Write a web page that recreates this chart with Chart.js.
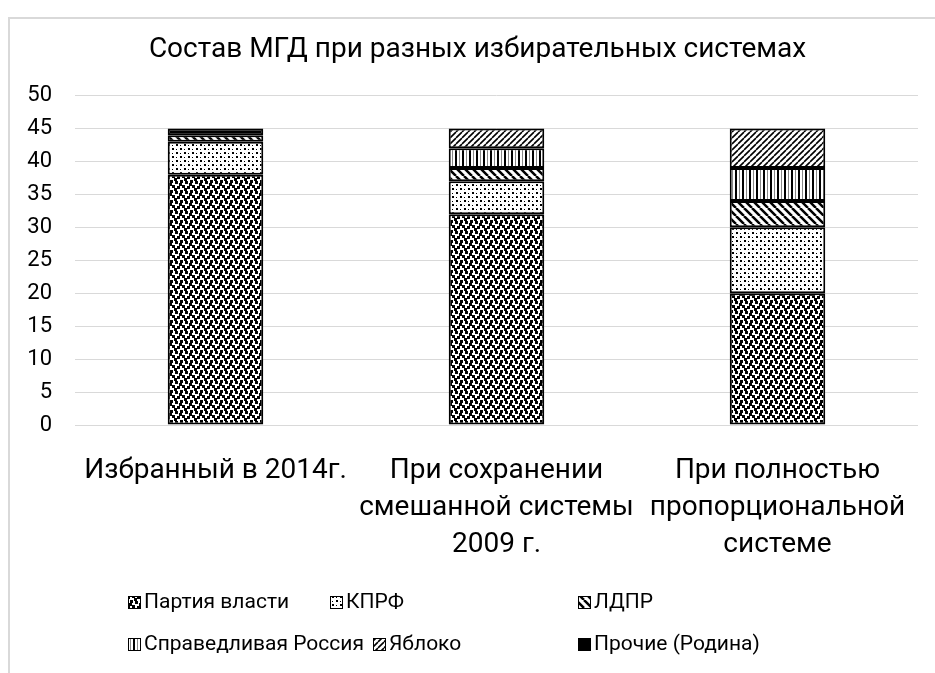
<!DOCTYPE html>
<html lang="ru">
    <head>
        <meta charset="utf-8" />
        <title>Состав МГД</title>
        <script src="https://cdn.jsdelivr.net/npm/chart.js"></script>
        <style>
            body { margin: 0; background: #fff; }
            #frame {
              position: absolute; left: 8px; top: 17px;
              width: 1000px; height: 1000px;
              border-left: 2px solid #d9d9d9; border-top: 2px solid #d9d9d9;
            }
            #chart { position: absolute; left: 0; top: 0; }
        </style>
    </head>
    <body>
        <div id="frame"></div>
        <canvas id="chart" width="935" height="673"></canvas>
        <script>
            // data
            const chartTitle = "Состав МГД при разных избирательных системах";
            const categories = [
              ["Избранный в 2014г."],
              ["При сохранении", "смешанной системы", "2009 г."],
              ["При полностью", "пропорциональной", "системе"]
            ];
            const seriesNames = ["Партия власти", "КПРФ", "ЛДПР", "Справедливая Россия", "Яблоко", "Прочие (Родина)"];
            const partyOfPower = [38, 32, 20];
            const kprf = [5, 5, 10];
            const ldpr = [1, 2, 4];
            const sr = [0, 3, 5];
            const yabloko = [0, 3, 6];
            const others = [1, 0, 0];
            const yMin = 0, yMax = 50, yStep = 5;

            const FONT = "Roboto, 'Noto Sans', sans-serif";

            // hatch fills, like the excel pattern fills
            function makePattern(w, h, draw) {
              const c = document.createElement("canvas");
              c.width = w; c.height = h;
              const g = c.getContext("2d");
              g.fillStyle = "#fff";
              g.fillRect(0, 0, w, h);
              g.fillStyle = "#000";
              g.strokeStyle = "#000";
              draw(g, w, h);
              return g.createPattern(c, "repeat");
            }

            const confetti = makePattern(10, 10, g => {
              [[0, 0], [5, 1], [2, 5], [7, 6], [4, 8], [9, 3]].forEach(([x, y]) => {
                g.fillRect(x, y, 3, 3);
                g.fillRect(x - 10, y, 3, 3);
                g.fillRect(x, y - 10, 3, 3);
              });
            });
            const dots = makePattern(8, 8, g => {
              g.fillRect(0, 0, 2, 2);
              g.fillRect(4, 4, 2, 2);
              g.fillRect(4, 1, 1, 1);
              g.fillRect(0, 5, 1, 1);
            });
            const downDiag = makePattern(8, 8, g => {
              g.lineWidth = 2.5;
              g.beginPath();
              [-8, 0, 8].forEach(o => { g.moveTo(o, 0); g.lineTo(o + 8, 8); });
              g.stroke();
            });
            const vertical = makePattern(7, 4, g => {
              g.fillRect(0, 0, 2, 4);
              g.fillStyle = "#888";
              g.fillRect(4, 0, 1, 4);
            });
            const upDiag = makePattern(6, 6, g => {
              g.lineWidth = 1.6;
              g.beginPath();
              [-6, 0, 6].forEach(o => { g.moveTo(o, 6); g.lineTo(o + 6, 0); });
              g.stroke();
            });

            const series = [partyOfPower, kprf, ldpr, sr, yabloko, others];
            const fills = [confetti, dots, downDiag, vertical, upDiag, "#000"];

            // legend laid out like the excel one: 3 columns, 2 rows
            const legendSpots = [[128, 603], [330, 603], [578, 603], [128, 645], [373, 645], [578, 645]];

            const gridLegend = {
              id: "gridLegend",
              afterLayout(chart) {
                // excel centres the title a bit to the right of the canvas middle
                chart.titleBlock.left += 37;
              },
              afterDraw(chart) {
                const ctx = chart.ctx;
                ctx.save();
                ctx.font = "21px " + FONT;
                ctx.textBaseline = "middle";
                chart.data.datasets.forEach((ds, i) => {
                  const [x, y] = legendSpots[i];
                  ctx.fillStyle = ds.backgroundColor;
                  ctx.fillRect(x, y - 7, 13, 13);
                  ctx.strokeStyle = "#000";
                  ctx.lineWidth = 1;
                  ctx.strokeRect(x + 0.5, y - 6.5, 12, 12);
                  ctx.fillStyle = "#000";
                  ctx.fillText(ds.label, x + 16, y);
                });
                ctx.restore();
              }
            };

            new Chart(document.getElementById("chart"), {
              type: "bar",
              data: {
                labels: categories,
                datasets: series.map((vals, i) => ({
                  label: seriesNames[i],
                  data: vals,
                  backgroundColor: fills[i],
                  borderColor: "#000",
                  borderWidth: 2,
                  borderSkipped: false,
                  barPercentage: 0.34,
                  categoryPercentage: 1
                }))
              },
              options: {
                responsive: false,
                animation: false,
                devicePixelRatio: 1,
                layout: { padding: { left: 0, right: 17, top: 0, bottom: 100 } },
                plugins: {
                  legend: { display: false },
                  tooltip: { enabled: false },
                  title: {
                    display: true,
                    text: chartTitle,
                    color: "#000",
                    font: { family: FONT, size: 28, weight: "normal" },
                    padding: { top: 33, bottom: 29 }
                  }
                },
                scales: {
                  x: {
                    stacked: true,
                    grid: { display: false },
                    border: { display: false },
                    ticks: {
                      color: "#000",
                      maxRotation: 0,
                      autoSkip: false,
                      padding: 19,
                      font: { family: FONT, size: 28, lineHeight: 37 / 28 }
                    },
                    afterFit: s => { s.height = 148; }
                  },
                  y: {
                    stacked: true,
                    min: yMin,
                    max: yMax,
                    grid: { color: "#d9d9d9", lineWidth: 1, drawTicks: false },
                    border: { display: false },
                    ticks: {
                      stepSize: yStep,
                      color: "#000",
                      padding: 23,
                      font: { family: FONT, size: 22 }
                    },
                    afterFit: s => { s.width = 75; }
                  }
                }
              },
              plugins: [gridLegend]
            });
        </script>
    </body>
</html>
